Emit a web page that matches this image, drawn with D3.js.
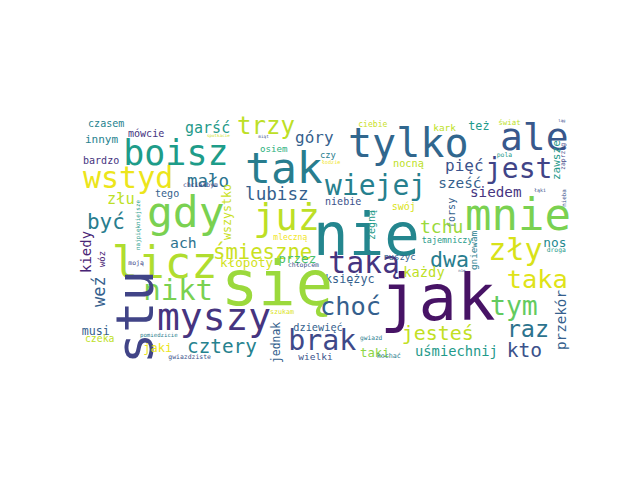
<!DOCTYPE html>
<html><head><meta charset="utf-8">
<script src="https://cdn.jsdelivr.net/npm/d3@7"></script>
<style>html,body{margin:0;padding:0;background:#fff;}</style>
</head><body>
<svg id="c" width="640" height="480"></svg>
<script>
const words = ["czasem","mówcie","garść","innym","spotkacie","boisz","trzy","wstyd","mało","bardzo",
"złu","tego","chciałbym","wszystko","być","gdy","najpiękniejsze","kiedy","wóz","weź",
"moją","licz","ach","śmieszne","kłopoty","przez","chłopcem","taką","księżyc","się",
"nikt","stu","myszy","musi","czeka","pomiedzicie","jaki","cztery","gwiazdziste","choć",
"szukam","dziewięć","jednak","brak","wielki","taki","gwiazd","kochać","jak","nie",
"tylko","tak","wiejej","lubisz","niebie","już","mleczną","osiem","miąt","góry",
"czy","łodzie","ciebie","nocną","swój","zegną","kark","też","świat","ląg",
"ale","pola","jest","pięć","sześć","siedem","zawsze","zaprzęg","łąki","nieba",
"forsy","mnie","tchu","tajemniczy","gniewam","ruszyć","dwa","nos","droga","zły",
"nie","każdy","taka","tym","przekór","raz","jesteś","kto","uśmiechnij"];
const sizes = [8.1,8.1,12.1,8.9,3.4,28.2,19.4,24.2,14.1,8.1,
12.3,8.1,5.2,9.4,16.9,34.7,4.8,11.3,7.1,13.7,
5.2,35.5,11.9,16.6,10.2,10.2,5.2,24.0,9.5,50.0,
23.4,41.9,30.6,9.4,7.9,4.6,9.7,15.6,5.2,20.5,
5.4,8.3,9.2,22.8,7.7,9.9,5.0,5.4,51.6,47.6,
32.3,34.7,22.6,14.2,8.1,29.8,6.5,7.4,3.5,12.9,
7.1,4.2,6.5,8.3,8.1,8.1,7.6,9.5,6.0,3.2,
30.6,5.2,22.6,12.9,11.6,11.5,8.9,5.2,4.0,4.7,
8.1,35.5,14.5,6.8,7.5,7.3,17.4,10.3,5.1,24.2,
3.2,11.1,20.5,21.4,11.5,19.0,16.1,15.8,11.1];
const layoutX = [6.5,38.7,84.7,4.0,102.4,34.9,126.6,2.4,86.3,2.4,
21.8,60.5,83.1,121.4,5.6,54.0,48.4,8.9,19.8,19.8,
39.0,25.6,72.6,107.3,112.9,159.9,167.7,200.2,197.6,113.7,
51.0,58.9,62.1,1.4,4.0,48.4,51.0,86.3,71.2,193.5,
153.2,172.0,161.6,168.0,176.0,225.8,225.8,239.3,241.9,188.0,
216.1,133.1,197.6,133.1,197.6,139.8,155.9,145.2,143.8,173.4,
193.5,194.9,224.4,252.4,251.4,238.2,284.9,313.1,337.3,385.7,
338.7,336.0,326.6,294.4,288.9,314.5,386.7,391.3,366.1,391.9,
302.4,310.5,274.2,275.6,319.9,244.4,282.3,373.6,376.4,329.3,
305.1,260.7,344.1,330.6,391.9,344.1,259.4,344.1,270.2];
const layoutY = [6.7,14.8,12.0,20.1,14.6,37.6,12.2,56.5,55.7,37.0,
69.0,63.6,55.3,98.1,89.2,87.6,106.1,124.7,119.8,152.1,
118.6,128.9,104.8,113.0,119.8,116.9,120.2,124.9,133.0,150.5,
146.5,198.1,170.6,174.7,180.6,175.9,188.6,189.4,194.4,158.5,
158.0,171.5,197.3,186.8,194.8,192.2,178.7,193.5,162.6,110.2,
31.1,52.3,61.8,65.8,69.8,90.0,98.1,26.9,16.0,20.1,
32.2,37.0,7.2,39.4,73.9,98.1,9.9,9.4,5.3,2.7,
25.5,31.4,48.3,42.2,56.4,63.6,49.7,41.6,59.1,71.2,
88.4,90.0,92.7,100.7,122.3,114.2,119.6,103.5,107.5,114.2,
123.6,127.7,137.0,158.5,186.8,176.0,178.7,192.2,191.4];
const vertical = [0,0,0,0,0,0,0,0,0,0, 0,0,0,1,0,0,1,1,1,1, 0,0,0,0,0,0,0,0,0,0,
0,1,0,0,0,0,0,0,0,0, 0,0,1,0,0,0,0,0,0,0, 0,0,0,0,0,0,0,0,0,0,
0,0,0,0,0,1,0,0,0,0, 0,0,0,0,0,0,1,1,0,1, 1,0,0,0,1,0,0,0,0,0,
0,0,0,0,1,0,0,0,0];
const colorT = [0.44,0.15,0.54,0.44,0.92,0.55,0.9,0.97,0.38,0.15,
0.9,0.3,0.2,0.92,0.42,0.8,0.54,0.1,0.1,0.3,
0.2,0.88,0.38,0.92,0.93,0.71,0.25,0.15,0.3,0.85,
0.8,0.2,0.15,0.3,0.9,0.42,0.97,0.44,0.25,0.3,
0.945,0.3,0.3,0.22,0.25,0.83,0.42,0.42,0.05,0.46,
0.33,0.42,0.43,0.3,0.25,0.9,0.98,0.64,0.25,0.3,
0.42,0.98,0.92,0.9,0.945,0.54,0.9,0.54,0.9,0.25,
0.27,0.54,0.2,0.25,0.3,0.15,0.54,0.2,0.25,0.25,
0.3,0.8,0.85,0.54,0.42,0.3,0.42,0.47,0.54,0.94,
0.25,0.9,0.95,0.76,0.3,0.38,0.91,0.25,0.54];

const svg = d3.select("#c");
svg.append("rect").attr("width",640).attr("height",480).attr("fill","#fff");
const x = d3.scaleLinear().domain([0,400]).range([80,576]);
const y = d3.scaleLinear().domain([0,200]).range([118.4,366.4]);
const s = d3.scaleLinear().domain([0,400]).range([0,496]);
const data = words.map((w,i)=>({w, size:sizes[i], lx:layoutX[i], ly:layoutY[i], v:vertical[i], c:colorT[i]}));
svg.append("g").selectAll("text").data(data).join("text")
  .attr("transform", d => `translate(${x(d.lx)},${y(d.ly)})` + (d.v ? " rotate(-90)" : ""))
  .attr("font-family","'DejaVu Sans Mono', monospace")
  .attr("font-size", d => s(d.size))
  .attr("fill", d => d3.interpolateViridis(d.c))
  .text(d => d.w);
</script>
</body></html>
